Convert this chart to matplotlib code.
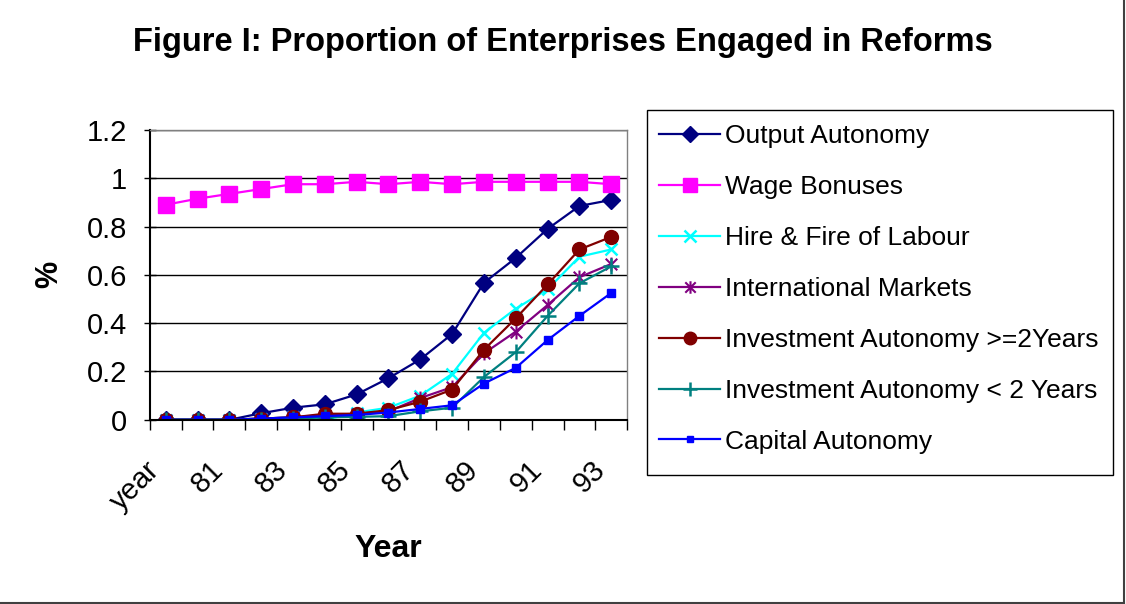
import matplotlib
matplotlib.use("Agg")
import matplotlib.pyplot as plt
from matplotlib.path import Path
from matplotlib.patches import Rectangle
from matplotlib.transforms import ScaledTranslation

plt.rcParams['font.family'] = ['Liberation Sans', 'DejaVu Sans']

# categories along the x axis ("year" header row came in as the first category)
years = ['year', '80', '81', '82', '83', '84', '85', '86', '87', '88',
         '89', '90', '91', '92', '93']

output_autonomy = [0, 0, 0, 0.027, 0.05, 0.064, 0.105, 0.172, 0.25, 0.355,
                   0.567, 0.67, 0.79, 0.885, 0.91]
wage_bonuses = [0.89, 0.915, 0.935, 0.955, 0.975, 0.975, 0.985, 0.975, 0.985,
                0.975, 0.985, 0.985, 0.985, 0.985, 0.975]
hire_fire = [0, 0, 0, 0.005, 0.01, 0.0, 0.03, 0.05, 0.10, 0.19,
             0.36, 0.46, 0.54, 0.675, 0.705]
intl_markets = [0, 0, 0, 0.005, 0.01, 0.02, 0.025, 0.035, 0.09, 0.135,
                0.275, 0.365, 0.475, 0.59, 0.645]
invest_ge2 = [0, 0, 0, 0.005, 0.01, 0.025, 0.025, 0.04, 0.075, 0.125,
              0.29, 0.42, 0.56, 0.705, 0.757]
invest_lt2 = [0, 0, 0, 0.0, 0.005, 0.01, 0.012, 0.015, 0.035, 0.05,
              0.177, 0.28, 0.43, 0.565, 0.635]
capital_autonomy = [0, 0, 0, 0.005, 0.01, 0.015, 0.02, 0.03, 0.045, 0.06,
                    0.15, 0.215, 0.33, 0.43, 0.525]

# spreadsheet-style asterisk: an X with a vertical bar through it
asterisk = Path([(-1, -1), (1, 1), (-1, 1), (1, -1), (0, -1.2), (0, 1.2)],
                [Path.MOVETO, Path.LINETO, Path.MOVETO, Path.LINETO,
                 Path.MOVETO, Path.LINETO])

series = [
    ('Output Autonomy', output_autonomy, '#000080', 'D', 9, 1.0),
    ('Wage Bonuses', wage_bonuses, '#FF00FF', 's', 11, 1.0),
    ('Hire & Fire of Labour', hire_fire, '#00FFFF', 'x', 9, 1.8),
    ('International Markets', intl_markets, '#800080', asterisk, 10, 1.5),
    ('Investment Autonomy >=2Years', invest_ge2, '#800000', 'o', 10, 1.0),
    ('Investment Autonomy < 2 Years', invest_lt2, '#008080', '+', 11, 1.8),
    ('Capital Autonomy', capital_autonomy, '#0000FF', 's', 5.5, 1.0),
]

fig = plt.figure(figsize=(11.26, 6.04), dpi=100)
ax = fig.add_axes([0.133, 0.305, 0.424, 0.48])

x = list(range(len(years)))
for label, vals, color, marker, ms, mew in series:
    ax.plot(x, vals, color=color, lw=1.6, marker=marker, markersize=ms,
            markeredgewidth=mew, markerfacecolor=color, markeredgecolor=color,
            label=label)

ax.set_xlim(-0.5, len(years) - 0.5)
ax.set_ylim(0, 1.2)

# y axis
yticks = [0, 0.2, 0.4, 0.6, 0.8, 1.0, 1.2]
ax.set_yticks(yticks)
ax.set_yticklabels(['%g' % v for v in yticks], fontsize=21)
ax.tick_params(axis='y', direction='inout', length=9, width=1, pad=12)
ax.yaxis.grid(True, color='black', lw=1)
ax.set_axisbelow(True)

# x axis: ticks between categories, every second category labelled
ax.set_xticks([i - 0.5 for i in range(len(years) + 1)])
ax.set_xticklabels([])
ax.tick_params(axis='x', which='major', direction='out', length=7, width=1)
ax.set_xticks(x[::2], minor=True)
ax.set_xticklabels(years[::2], minor=True, fontsize=21, rotation=45,
                   ha='right', rotation_mode='anchor')
ax.tick_params(axis='x', which='minor', length=0, pad=26)
shift = ScaledTranslation(-0.2, 0, fig.dpi_scale_trans)
for lbl in ax.get_xticklabels(minor=True):
    lbl.set_transform(lbl.get_transform() + shift)

for side in ['left', 'bottom']:
    ax.spines[side].set_color('black')
    ax.spines[side].set_linewidth(1.5)
for side in ['top', 'right']:
    ax.spines[side].set_color('#808080')
    ax.spines[side].set_linewidth(1)

ax.set_ylabel('%', fontsize=22, fontweight='bold', va='center')
ax.yaxis.set_label_coords(-0.21, 0.5)
ax.set_xlabel('Year', fontsize=23, fontweight='bold', va='center')
ax.xaxis.set_label_coords(0.5, -0.445)

fig.text(0.5, 0.93, 'Figure I: Proportion of Enterprises Engaged in Reforms',
         ha='center', va='center', fontsize=23.5, fontweight='bold')

# legend box drawn on its own so its height can be set freely
fig.add_artist(Rectangle((0.5746, 0.2136), 0.4139, 0.6043, fill=False,
                         edgecolor='black', lw=1, transform=fig.transFigure))
leg = fig.legend(loc='upper left', bbox_to_anchor=(0.575, 0.814),
                 fontsize=19, frameon=False, borderpad=0.45,
                 labelspacing=1.02, handlelength=2.3, handletextpad=0.2,
                 borderaxespad=0)
for h in leg.legend_handles:
    h.set_markersize(h.get_markersize() * 0.9)

# border lines on the right and bottom of the figure
fig.add_artist(plt.Line2D([0.9985, 0.9985], [0.002, 1.0], color='#404040',
                          lw=1.5, transform=fig.transFigure))
fig.add_artist(plt.Line2D([0.0, 0.9985], [0.002, 0.002], color='#404040',
                          lw=1.5, transform=fig.transFigure))

fig.savefig('out.png', dpi=100)
